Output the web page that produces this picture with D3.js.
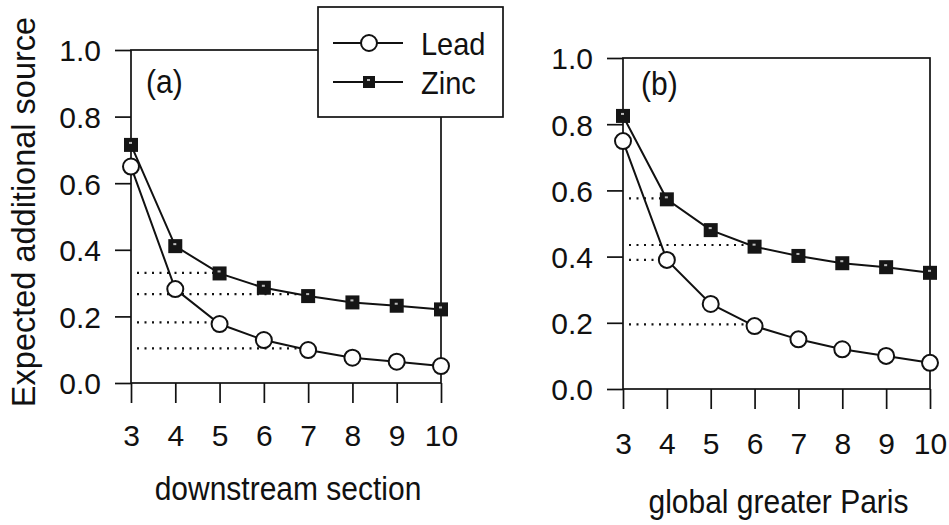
<!DOCTYPE html>
<html>
<head>
<meta charset="utf-8">
<script src="https://cdn.jsdelivr.net/npm/d3@7"></script>
<style>
  html, body { margin: 0; padding: 0; background: #fff; }
  svg { display: block; }
  text { font-family: "Liberation Sans", Arial, Helvetica, sans-serif; fill: #111; }
</style>
</head>
<body>
<svg id="chart" width="949" height="525"></svg>
<script>
// ---- data ----
const sections = [3, 4, 5, 6, 7, 8, 9, 10];
const yTicks = [0, 0.2, 0.4, 0.6, 0.8, 1.0];
const seriesNames = ["Lead", "Zinc"];

const leadA = [0.650, 0.282, 0.177, 0.129, 0.099, 0.076, 0.064, 0.051];
const zincA = [0.715, 0.411, 0.329, 0.286, 0.261, 0.242, 0.232, 0.221];
const leadB = [0.749, 0.390, 0.257, 0.190, 0.150, 0.120, 0.100, 0.079];
const zincB = [0.825, 0.573, 0.480, 0.430, 0.402, 0.380, 0.368, 0.351];

// dotted reference lines: level and section where the line ends
const refLevelsA = [0.331, 0.267, 0.182, 0.104];
const refEndsA   = [5, 7, 5, 7];
const refLevelsB = [0.576, 0.435, 0.390, 0.195];
const refEndsB   = [4, 6, 4, 6];

const panelLabels = ["(a)", "(b)"];
const xTitles = ["downstream section", "global greater Paris"];
const yTitle = "Expected additional source";

// ---- drawing ----
const svg = d3.select("#chart");
const STRETCH = 1.1;

const panels = [
  { x0: 131, x1: 441, y0: 383, y1: 50, lead: leadA, zinc: zincA, refL: refLevelsA, refE: refEndsA,
    label: panelLabels[0], title: xTitles[0], labelX: 146, labelY: 93, titleY: 500, tickLabelDy: 64 },
  { x0: 623, x1: 930, y0: 389, y1: 58, lead: leadB, zinc: zincB, refL: refLevelsB, refE: refEndsB,
    label: panelLabels[1], title: xTitles[1], labelX: 641, labelY: 95, titleY: 513, tickLabelDy: 66 }
];

panels.forEach(p => {
  const x = d3.scaleLinear().domain([3, 10]).range([p.x0, p.x1]);
  const y = d3.scaleLinear().domain([0, 1]).range([p.y0, p.y1]);
  const g = svg.append("g");

  // frame
  g.append("rect")
    .attr("x", x(3)).attr("y", y(1))
    .attr("width", x(10) - x(3)).attr("height", y(0) - y(1))
    .attr("fill", "none").attr("stroke", "#111").attr("stroke-width", 1.7);

  // y axis
  const ya = g.append("g").attr("transform", `translate(${x(3)},0)`)
    .call(d3.axisLeft(y).tickValues(yTicks).tickSizeInner(16).tickSizeOuter(0)
      .tickFormat(d3.format(".1f")).tickPadding(14));
  ya.select(".domain").remove();
  ya.selectAll("line").attr("stroke", "#111").attr("stroke-width", 1.7);
  ya.selectAll("text").attr("font-size", 30).attr("font-family", "Liberation Sans, Arial, sans-serif")
    .attr("fill", "#111").attr("dy", "0.36em");

  // x axis
  const xa = g.append("g").attr("transform", `translate(0,${y(0)})`)
    .call(d3.axisBottom(x).tickValues(sections).tickSizeInner(20).tickSizeOuter(0)
      .tickFormat(d3.format("d")).tickPadding(p.tickLabelDy - 20 - 22));
  xa.select(".domain").remove();
  xa.selectAll("line").attr("stroke", "#111").attr("stroke-width", 1.7);
  xa.selectAll("text").attr("font-size", 30).attr("font-family", "Liberation Sans, Arial, sans-serif")
    .attr("fill", "#111");

  // x title
  g.append("text")
    .attr("transform", `translate(${(x(3) + x(10)) / 2 + 2},${p.titleY}) scale(1,${STRETCH})`)
    .attr("text-anchor", "middle").attr("font-size", 30).text(p.title);

  // panel label
  g.append("text")
    .attr("transform", `translate(${p.labelX},${p.labelY}) scale(1,${STRETCH})`)
    .attr("font-size", 30).text(p.label);

  // dotted reference lines
  p.refL.forEach((lv, i) => {
    g.append("line")
      .attr("x1", x(3) + 6).attr("x2", x(p.refE[i]))
      .attr("y1", y(lv)).attr("y2", y(lv))
      .attr("stroke", "#111").attr("stroke-width", 2.2)
      .attr("stroke-dasharray", "2,5.5");
  });

  const line = d3.line().x((d, i) => x(sections[i])).y(d => y(d));

  // lines
  [p.lead, p.zinc].forEach(s => {
    g.append("path").datum(s).attr("d", line)
      .attr("fill", "none").attr("stroke", "#111").attr("stroke-width", 2);
  });

  // zinc markers (black squares)
  g.selectAll(".zsq").data(p.zinc).enter().append("rect")
    .attr("x", (d, i) => x(sections[i]) - 7).attr("y", d => y(d) - 7)
    .attr("width", 14).attr("height", 14).attr("fill", "#151515");
  g.selectAll(".zdot").data(p.zinc).enter().append("rect")
    .attr("x", (d, i) => x(sections[i]) - 2).attr("y", d => y(d) - 3)
    .attr("width", 3).attr("height", 2).attr("fill", "#bbb");

  // lead markers (open circles)
  g.selectAll(".lc").data(p.lead).enter().append("circle")
    .attr("cx", (d, i) => x(sections[i])).attr("cy", d => y(d)).attr("r", 8)
    .attr("fill", "#fff").attr("stroke", "#111").attr("stroke-width", 2);
});

// y title
svg.append("text")
  .attr("transform", "translate(35,212) rotate(-90)")
  .attr("text-anchor", "middle").attr("font-size", 32.5).text(yTitle);

// legend
const lg = svg.append("g");
lg.append("rect").attr("x", 318).attr("y", 7).attr("width", 185).attr("height", 110)
  .attr("fill", "#fff").attr("stroke", "#111").attr("stroke-width", 1.7);
const legendY = [43, 82];
seriesNames.forEach((name, i) => {
  const yy = legendY[i];
  lg.append("line").attr("x1", 333).attr("x2", 403).attr("y1", yy).attr("y2", yy)
    .attr("stroke", "#111").attr("stroke-width", 2);
  if (name === "Lead") {
    lg.append("circle").attr("cx", 369).attr("cy", yy).attr("r", 8)
      .attr("fill", "#fff").attr("stroke", "#111").attr("stroke-width", 2);
  } else {
    lg.append("rect").attr("x", 363).attr("y", yy - 6).attr("width", 12).attr("height", 12)
      .attr("fill", "#151515");
    lg.append("rect").attr("x", 367).attr("y", yy - 3).attr("width", 3).attr("height", 2)
      .attr("fill", "#bbb");
  }
  lg.append("text")
    .attr("transform", `translate(421,${yy + 12}) scale(1,${STRETCH})`)
    .attr("font-size", 29).text(name);
});
</script>
</body>
</html>
